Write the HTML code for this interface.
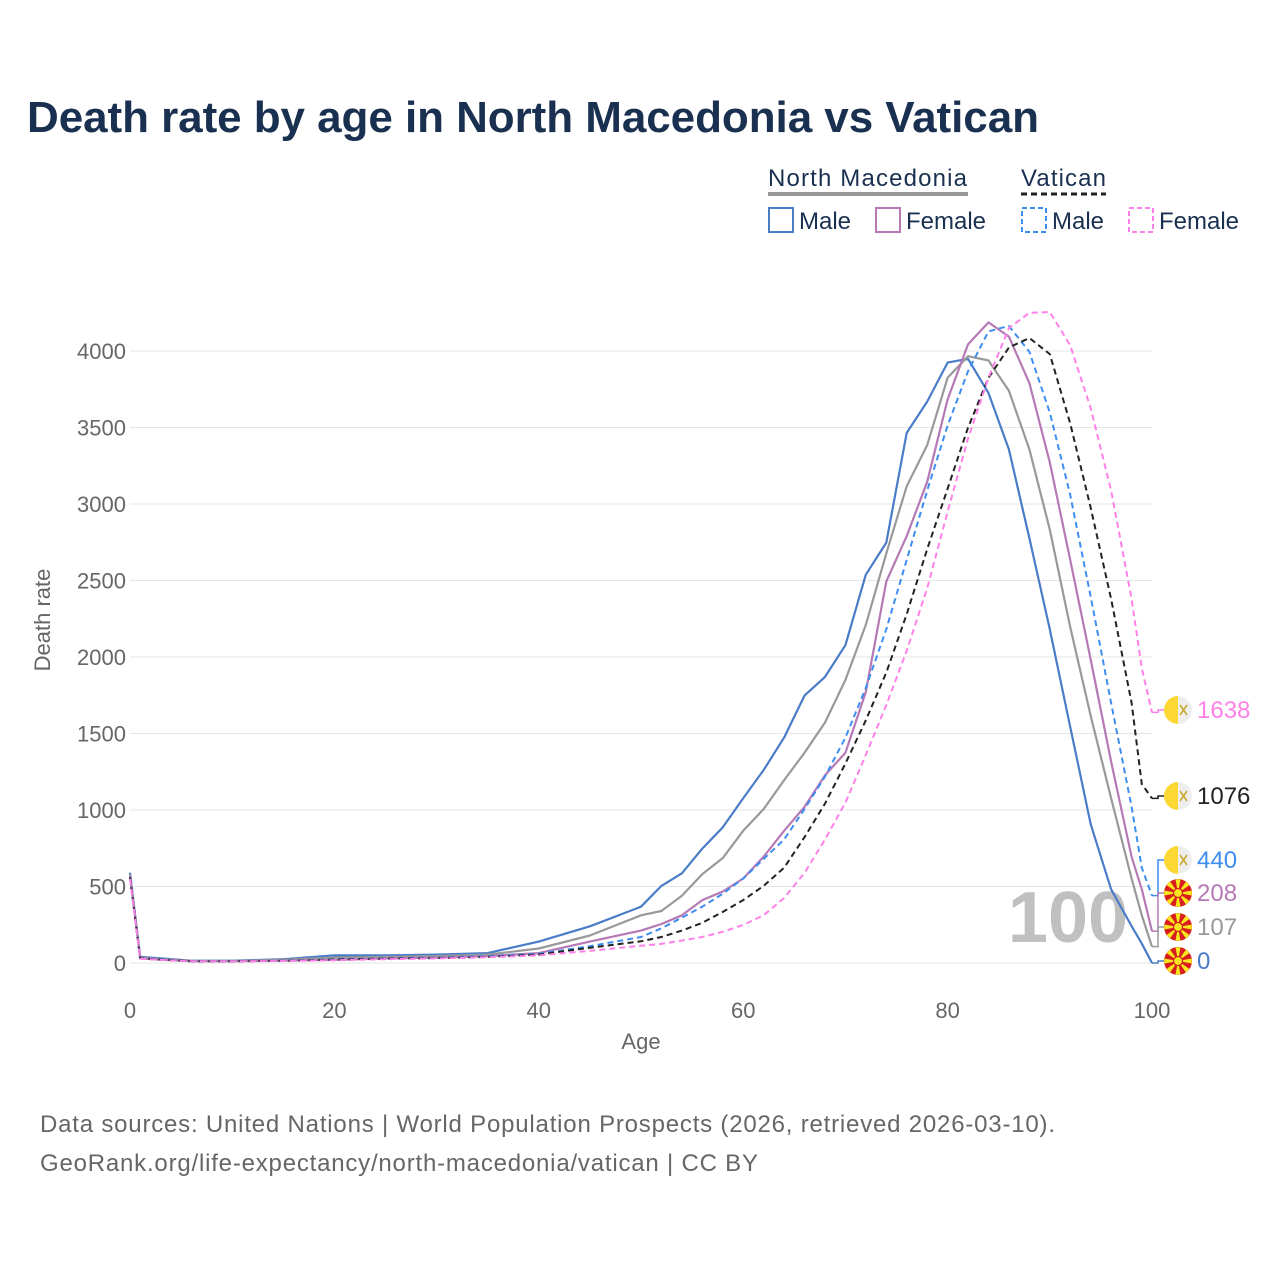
<!DOCTYPE html>
<html><head><meta charset="utf-8">
<style>
html,body{margin:0;padding:0;background:#fff;}
body{width:1280px;height:1280px;overflow:hidden;font-family:"Liberation Sans",sans-serif;}
svg text{font-family:"Liberation Sans",sans-serif;}
</style></head>
<body>
<svg id="chart" width="1280" height="1280" viewBox="0 0 1280 1280" xmlns="http://www.w3.org/2000/svg">
  <text x="27" y="132" font-size="44" font-weight="bold" fill="#1a3050" textLength="1012">Death rate by age in North Macedonia vs Vatican</text>
  <g>
    <text x="768" y="186" font-size="24" fill="#1a3050" textLength="199">North Macedonia</text>
    <line x1="768" y1="194" x2="968" y2="194" stroke="#999" stroke-width="4"/>
    <text x="1021" y="186" font-size="24" fill="#1a3050" textLength="85">Vatican</text>
    <line x1="1021" y1="194" x2="1106" y2="194" stroke="#222" stroke-width="3" stroke-dasharray="6,4"/>
    <rect x="769" y="208" width="24" height="24" fill="none" stroke="#4a7cc8" stroke-width="2"/>
    <text x="799" y="229" font-size="24" fill="#1a3050">Male</text>
    <rect x="876" y="208" width="24" height="24" fill="none" stroke="#b57ab5" stroke-width="2"/>
    <text x="906" y="229" font-size="24" fill="#1a3050">Female</text>
    <rect x="1022" y="208" width="24" height="24" fill="none" stroke="#3d8ef0" stroke-width="2" stroke-dasharray="5,3"/>
    <text x="1052" y="229" font-size="24" fill="#1a3050">Male</text>
    <rect x="1129" y="208" width="24" height="24" fill="none" stroke="#ff80e8" stroke-width="2" stroke-dasharray="5,3"/>
    <text x="1159" y="229" font-size="24" fill="#1a3050">Female</text>
  </g>
  <text x="1068" y="942" font-size="72" font-weight="bold" fill="#c0c0c0" text-anchor="middle">100</text>
  <g id="grid"></g>
  <g id="series"></g>
  <g id="labels"></g>
  <text x="641" y="1049" font-size="22" fill="#666" text-anchor="middle">Age</text>
  <text x="0" y="0" font-size="22" fill="#666" text-anchor="middle" transform="translate(50,620) rotate(-90)">Death rate</text>
  <text x="40" y="1132" font-size="24" fill="#666" textLength="1015">Data sources: United Nations | World Population Prospects (2026, retrieved 2026-03-10).</text>
  <text x="40" y="1171" font-size="24" fill="#666" textLength="718">GeoRank.org/life-expectancy/north-macedonia/vatican | CC BY</text>
</svg>
<script>
const ages = [0,1,3,6,10,15,20,25,30,35,40,45,50,52,54,56,58,60,62,64,66,68,70,72,74,76,78,80,82,84,86,88,90,92,94,96,98,99,100];
const nmkMale   = [590,40,30,15,15,25,50,50,55,65,140,240,368,504,586,748,887,1077,1261,1473,1748,1870,2077,2538,2748,3465,3669,3924,3949,3725,3357,2776,2181,1544,907,482,241,127,0];
const nmkTotal  = [580,35,25,14,13,20,35,40,45,55,95,180,312,340,439,581,686,864,1006,1195,1374,1572,1850,2210,2677,3116,3385,3825,3966,3938,3740,3357,2833,2196,1615,1077,552,312,107];
const nmkFemale = [570,30,22,12,12,15,20,30,35,45,65,140,212,255,312,411,467,552,694,864,1020,1227,1374,1771,2493,2790,3145,3683,4043,4187,4094,3790,3272,2635,1983,1317,694,482,208];
const vatMale   = [560,30,25,12,12,15,25,30,35,45,60,110,170,227,297,368,453,552,680,807,1006,1218,1473,1799,2181,2635,3088,3513,3867,4128,4164,3994,3598,3060,2394,1700,1020,623,440];
const vatTotal  = [560,30,22,12,12,14,22,28,32,40,55,100,142,170,212,263,334,411,504,623,822,1042,1303,1586,1898,2280,2705,3100,3499,3825,4023,4085,3980,3527,2975,2380,1700,1170,1076];
const vatFemale = [550,28,20,11,11,13,18,25,30,38,50,80,113,125,147,170,204,249,312,425,589,807,1048,1360,1686,2040,2450,2950,3428,3825,4150,4250,4255,4037,3626,3088,2380,1926,1638];
const yTicks = [0,500,1000,1500,2000,2500,3000,3500,4000];
const xTicks = [0,20,40,60,80,100];

const NS = "http://www.w3.org/2000/svg";
const xS = a => 130 + a * 10.22;
const yS = v => 963 - v * 0.153;
function mk(tag, attrs, parent){ const e=document.createElementNS(NS,tag); for(const k in attrs) e.setAttribute(k,attrs[k]); parent.appendChild(e); return e; }

const grid = document.getElementById('grid');
yTicks.forEach(t=>{
  const l = mk('line',{x1:130,x2:1152,y1:yS(t),y2:yS(t),stroke:'#e6e6e6','stroke-width':1},grid);
  
  
  const tx = mk('text',{x:126,y:yS(t)+8,'font-size':22,fill:'#666','text-anchor':'end'},grid);
  tx.textContent = t;
  
  
});
xTicks.forEach(t=>{
  const tx = mk('text',{x:xS(t),y:1018,'font-size':22,fill:'#666','text-anchor':'middle'},grid);
  tx.textContent = t;
  
  
});

const sg = document.getElementById('series');
const defs = [
  {vals:nmkMale, color:'#4a7cc8', dash:null, w:2.2, name:'nmk-male-line'},
  {vals:nmkTotal, color:'#999999', dash:null, w:2.2, name:'nmk-total-line'},
  {vals:nmkFemale, color:'#b57ab5', dash:null, w:2.2, name:'nmk-female-line'},
  {vals:vatMale, color:'#3d8ef0', dash:'6,4', w:2, name:'vat-male-line'},
  {vals:vatTotal, color:'#222222', dash:'6,4', w:2, name:'vat-total-line'},
  {vals:vatFemale, color:'#ff80e8', dash:'6,4', w:2, name:'vat-female-line'}
];
defs.forEach(d=>{
  const pts = ages.map((a,i)=>xS(a).toFixed(1)+','+yS(d.vals[i]).toFixed(1)).join(' ');
  const attrs = {points:pts,fill:'none',stroke:d.color,'stroke-width':d.w,'stroke-linejoin':'round'};
  if(d.dash) attrs['stroke-dasharray']=d.dash;
  const p = mk('polyline',attrs,sg);
  
  
});

const lg = document.getElementById('labels');
const endLabels = [
  {vals:vatFemale, color:'#ff80e8', ly:710, flag:'vat'},
  {vals:vatTotal, color:'#222222', ly:796, flag:'vat'},
  {vals:vatMale, color:'#3d8ef0', ly:860, flag:'vat'},
  {vals:nmkFemale, color:'#b57ab5', ly:893, flag:'nmk'},
  {vals:nmkTotal, color:'#999999', ly:927, flag:'nmk'},
  {vals:nmkMale, color:'#4a7cc8', ly:961, flag:'nmk'}
];
endLabels.forEach(e=>{
  const v = e.vals[e.vals.length-1];
  const y0 = yS(v);
  const c = mk('polyline',{points:`1152,${y0} 1158,${y0} 1158,${e.ly} 1164,${e.ly}`,fill:'none',stroke:e.color,'stroke-width':1.5},lg);
  
  
  const g = mk('g',{transform:`translate(1178,${e.ly})`},lg);
  
  
  if(e.flag==='vat'){
    mk('circle',{r:14,fill:'#eeeeee'},g);
    mk('path',{d:'M0,-14 A14,14 0 0,0 0,14 Z',fill:'#fdd835'},g);
    mk('path',{d:'M2,-5 L9,5 M9,-5 L2,5',stroke:'#c9a830','stroke-width':1.6,fill:'none'},g);
  } else {
    mk('circle',{r:14,fill:'#d81e1e'},g);
    for(let k=0;k<8;k++){
      const ang = k*Math.PI/4;
      const a1 = ang-0.18, a2 = ang+0.18;
      mk('path',{d:`M0,0 L${14*Math.cos(a1)},${14*Math.sin(a1)} L${14*Math.cos(a2)},${14*Math.sin(a2)} Z`,fill:'#f8e71c'},g);
    }
    mk('circle',{r:4.5,fill:'#f8e71c',stroke:'#d81e1e','stroke-width':1.2},g);
  }
  const t = mk('text',{x:1197,y:e.ly+8,'font-size':24,fill:e.color},lg);
  t.textContent = v;
  
  
});
</script>
</body></html>
